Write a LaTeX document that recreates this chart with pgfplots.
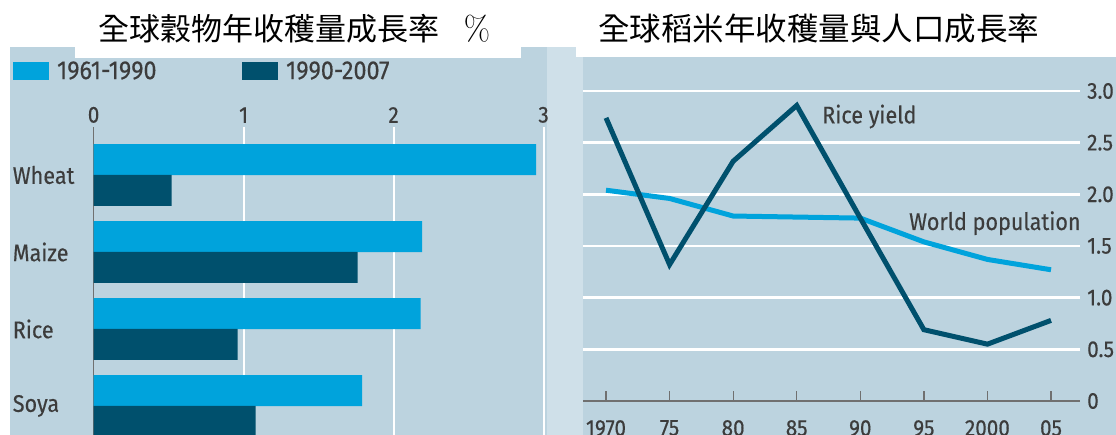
\documentclass[border=0pt]{standalone}
\usepackage{fontspec}
\usepackage{pgfplots}
\pgfplotsset{compat=1.18}
\setmainfont{Fira Sans}[FakeStretch=0.9, FakeBold=0.4]
\newfontfamily\cjk{Noto Sans CJK TC}
\newfontfamily\lmr{Latin Modern Roman}
\definecolor{panel}{HTML}{BCD3DF}
\definecolor{strip}{HTML}{CFE0E9}
\definecolor{lightbar}{HTML}{00A3DC}
\definecolor{darkbar}{HTML}{00506D}
\definecolor{txt}{HTML}{3C3C3C}
\definecolor{axisgray}{HTML}{707070}
\begin{document}
\begin{tikzpicture}[x=1pt,y=1pt]
\useasboundingbox (0,0) rectangle (1116,-435);
\clip (0,0) rectangle (1116,-435);
\fill[white] (0,0) rectangle (1116,-435);
\fill[panel] (10,-47) rectangle (547,-440);
\fill[strip] (547,-47) rectangle (583,-440);
\fill[panel] (583,-47) rectangle (1120,-440);
\fill[white] (75,0) rectangle (521,-58);
\fill[white] (576,0) rectangle (1120,-57);
\node[font=\cjk\fontsize{31}{31}\selectfont, text=black, anchor=west, inner sep=0pt] at (98,-29) {全球穀物年收穫量成長率};
\node[font=\lmr\fontsize{34}{34}\selectfont, text=black] at (477,-29) {\%};
\node[font=\cjk\fontsize{31.5}{31.5}\selectfont, text=black, anchor=west, inner sep=0pt] at (598,-29) {全球稻米年收穫量與人口成長率};

% left panel: bar chart
\begin{axis}[
  at={(93.6pt,-127pt)}, anchor=north west,
  scale only axis, width=450pt, height=325.2pt,
  xmin=0, xmax=3, ymin=-0.623, ymax=3.6, y dir=reverse,
  axis line style={draw=none},
  xtick={1,2,3}, extra x ticks={0},
  extra x tick style={grid style={draw=axisgray, line width=1.5pt}},
  xticklabel pos=upper,
  /pgf/number format/assume math mode=true,
  xticklabel style={font=\fontsize{23}{23}\selectfont, text=txt, inner sep=0pt, yshift=4pt},
  xmajorgrids, grid style={white, line width=2.2pt},
  major tick length=0pt,
  ytick={0,1,2,3}, yticklabels={Wheat,Maize,Rice,Soya},
  yticklabel style={font=\fontsize{24}{24}\selectfont, text=txt, anchor=west, inner sep=0pt, xshift=-81pt},
  xbar, bar width=31pt, bar shift=0pt,
  legend style={draw=none, fill=none, at={(axis description cs:-0.1802,1.1722)}, anchor=west,
    inner sep=0pt, outer sep=0pt, font=\fontsize{26}{26}\selectfont, text=txt,
    nodes={inner sep=0pt},
    /tikz/every odd column/.append style={column sep=8pt},
    /tikz/every even column/.append style={column sep=85pt}},
  legend columns=2,
]
\addplot[fill=lightbar, draw=none,
  legend image code/.code={\fill[lightbar] (0pt,-9pt) rectangle (36.6pt,9pt);}]
  coordinates {(2.95,-0.2) (2.19,0.8) (2.18,1.8) (1.79,2.8)};
\addlegendentry{1961-1990}
\addplot[fill=darkbar, draw=none,
  legend image code/.code={\fill[darkbar] (0pt,-9pt) rectangle (36.6pt,9pt);}]
  coordinates {(0.52,0.2) (1.76,1.2) (0.96,2.2) (1.08,3.2)};
\addlegendentry{1990-2007}
\end{axis}

% right panel: line chart
\begin{axis}[
  at={(583pt,-401pt)}, anchor=south west,
  scale only axis, width=497pt, height=310pt,
  xmin=1968.19, xmax=2007.28, ymin=0, ymax=3,
  axis x line=bottom, axis y line=right,
  x axis line style={draw=axisgray, line width=1.3pt, -},
  y axis line style={draw=none},
  xtick={1970,1975,1980,1985,1990,1995,2000,2005},
  xticklabels={1970,75,80,85,90,95,2000,05},
  x tick style={draw=axisgray, line width=1.3pt},
  major tick length=10pt, tick align=inside,
  xticklabel style={font=\fontsize{23}{23}\selectfont, text=txt, inner sep=0pt, yshift=-19pt},
  ytick={0,0.5,1,1.5,2,2.5,3},
  yticklabels={0,0.5,1.0,1.5,2.0,2.5,3.0},
  yticklabel style={font=\fontsize{23}{23}\selectfont, text=txt, inner sep=0pt, xshift=7pt},
  y tick style={draw=none},
  ymajorgrids, grid style={white, line width=2.5pt},
  clip=false,
]
\addplot[lightbar, line width=5pt] coordinates {
  (1970,2.04) (1975,1.96) (1980,1.79) (1985,1.78) (1990,1.77) (1995,1.54) (2000,1.37) (2005,1.27)};
\addplot[darkbar, line width=5pt] coordinates {
  (1970,2.74) (1975,1.32) (1980,2.32) (1985,2.86) (1990,1.77) (1995,0.69) (2000,0.55) (2005,0.78)};
\node[anchor=base west, inner sep=0pt, font=\fontsize{24}{24}\selectfont, text=txt] at (axis cs:1986.99,2.687) {Rice yield};
\node[anchor=base west, inner sep=0pt, font=\fontsize{24}{24}\selectfont, text=txt] at (axis cs:1993.83,1.655) {World population};
\end{axis}
\end{tikzpicture}
\end{document}
